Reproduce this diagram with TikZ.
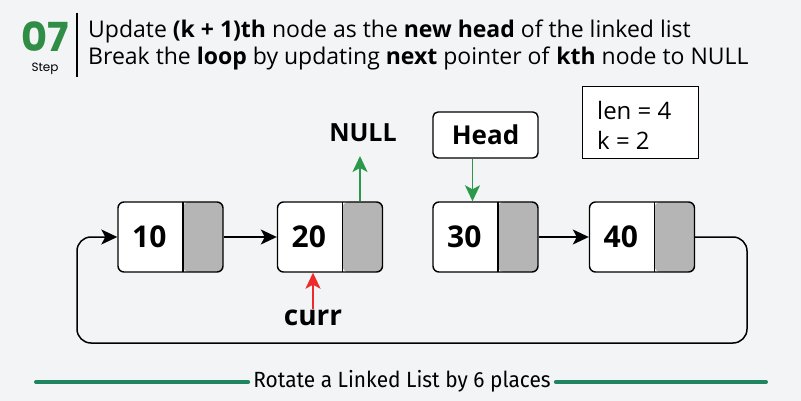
\documentclass[tikz,border=0pt]{standalone}
\usepackage{fontspec}
\setmainfont{Open Sans}
\newfontfamily\popfont{Poppins}
\newfontfamily\condfont{Fira Sans}
\usetikzlibrary{arrows.meta}
\definecolor{bgc}{HTML}{F3F4F6}
\definecolor{gfg}{HTML}{2F8D46}
\definecolor{lineg}{HTML}{1E8560}
\definecolor{nodegray}{HTML}{B5B5B5}
\definecolor{arrred}{HTML}{EE2A2A}
\definecolor{arrgreen}{HTML}{2A9A4A}
\tikzset{
  lnode/.style={draw, line width=1.4pt, rounded corners=6pt, fill=white,
    minimum width=105pt, minimum height=70pt, inner sep=0pt,
    path picture={
      \fill[nodegray] ([xshift=-40pt]path picture bounding box.north east) rectangle (path picture bounding box.south east);
      \draw[line width=1.2pt] ([xshift=-40pt]path picture bounding box.north east) -- ([xshift=-40pt]path picture bounding box.south east);
    }},
  numtxt/.style={font=\fontsize{30}{32}\selectfont\bfseries, inner sep=0pt},
  arr/.style={line width=1.5pt, -{Stealth[length=16pt,width=15pt,inset=4pt]}},
  garr/.style={arr, line width=1.8pt, arrgreen},
  rarr/.style={arr, line width=1.8pt, arrred},
  hdtxt/.style={font=\fontsize{23}{26}\selectfont, anchor=base west, inner sep=0pt},
}
\begin{document}
\begin{tikzpicture}[x=1pt,y=-1pt]
\fill[bgc] (0,0) rectangle (801,401);
\useasboundingbox (0,0) rectangle (801,401);
% header
\node[font=\popfont\fontsize{40}{40}\selectfont\bfseries, text=gfg, inner sep=0pt, text depth=0pt, anchor=base] (num) at (45,52) {07};
\node[font=\popfont\fontsize{12}{12}\selectfont, inner sep=0pt, anchor=base] (step) at (45,72) {Step};
\draw[line width=1.5pt] (77,13) coordinate (vt) -- (77,77) coordinate (vb);
\node[hdtxt] (l1) at (88,38) {Update \textbf{(k + 1)th} node as the \textbf{new head} of the linked list};
\node[hdtxt] (l2) at (88,65) {Break the \textbf{loop} by updating \textbf{next} pointer of \textbf{kth} node to NULL};
% list nodes
\node[lnode] (n10) at (170.5,237) {};
\node[lnode] (n20) at (330,237) {};
\node[lnode] (n30) at (485.5,237) {};
\node[lnode] (n40) at (642,237) {};
\node[numtxt] (t10) at ([xshift=32pt]n10.west) {10};
\node[numtxt] (t20) at ([xshift=32pt]n20.west) {20};
\node[numtxt] (t30) at ([xshift=32pt]n30.west) {30};
\node[numtxt] (t40) at ([xshift=32pt]n40.west) {40};
% connectors
\draw[arr] (n10.east) -- (n20.west);
\draw[arr] (n30.east) -- (n40.west);
\draw[arr, rounded corners=14pt] (n40.east) -- (747,237) -- (747,343) -- (77,343) -- (77,237) -- (n10.west);
% head
\node[draw, line width=1.4pt, rounded corners=5pt, fill=white, minimum width=105pt, minimum height=46pt, inner sep=0pt, font=\fontsize{26}{28}\selectfont\bfseries] (head) at (485.5,135) {Head};
\draw[garr] ([xshift=-13pt]head.south) -- ([xshift=-13pt]head.south |- n30.north);
% NULL
\node[font=\fontsize{25}{27}\selectfont\bfseries, inner sep=0pt] (null) at (363,133) {NULL};
\draw[garr] (n20.north -| 360,0) -- (360,156) coordinate (nulltip);
% curr
\node[font=\fontsize{28}{30}\selectfont\bfseries, inner sep=0pt] (curr) at (313,318) {curr};
\draw[rarr] (curr.north -| 313,0) ++(0,-1) -- (n20.south -| 313,0);
% len box
\node[draw, line width=1pt, fill=white, minimum width=116pt, minimum height=72pt, inner sep=0pt] (info) at (640,123) {};
\node[font=\fontsize{24}{30}\selectfont, align=left, anchor=west, inner sep=0pt] (infotxt) at (597,125) {len = 4\\k = 2};
% bottom title
\node[font=\condfont\fontsize{22}{24}\selectfont, inner sep=0pt] (title) at (402,381) {\scalebox{0.95}[1]{Rotate a Linked List by 6 places}};
\draw[lineg, line width=4pt, line cap=round] (36,382) coordinate (ll) -- ([xshift=-5pt]title.west |- 0,382);
\draw[lineg, line width=4pt, line cap=round] ([xshift=5pt]title.east |- 0,382) -- (766,382) coordinate (lr);
\end{tikzpicture}
\end{document}
